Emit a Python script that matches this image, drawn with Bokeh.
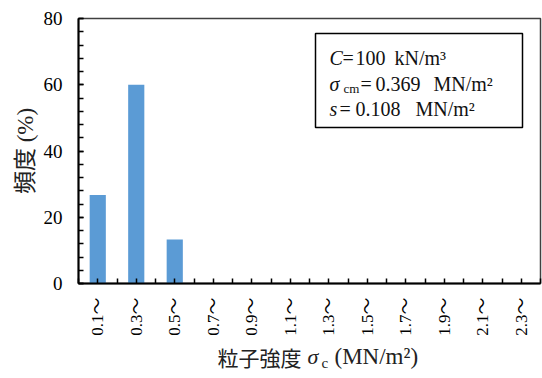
from bokeh.plotting import figure
from bokeh.models import Range1d, FixedTicker, BoxAnnotation, Label
from bokeh.layouts import column
from bokeh.core.properties import value
from bokeh.embed import file_html
from bokeh.resources import INLINE

# ---- data ----
categories = ["0.1～", "0.3～", "0.5～", "0.7～", "0.9～", "1.1～",
              "1.3～", "1.5～", "1.7～", "1.9～", "2.1～", "2.3～"]
frequency = [26.7, 60.0, 13.3, 0, 0, 0, 0, 0, 0, 0, 0, 0]
y_ticks = [0, 20, 40, 60, 80]

SERIF = "Liberation Serif, 'Noto Sans CJK JP'"
CJK = "'Noto Sans CJK JP'"

n = len(categories)
W = 542
H1, H2 = 342, 36
L, R, T, B = 78, 2, 18, 59
frame_w = W - L - R
frame_h = H1 - T - B
YMAX = 80

def px2x(px):
    return (px - L) / frame_w * n

def px2y(py):
    return (T + frame_h - py) / frame_h * YMAX

p = figure(width=W, height=H1, output_backend="svg", toolbar_location=None,
           x_range=Range1d(0, n), y_range=Range1d(0, YMAX),
           min_border_left=L, min_border_right=R, min_border_top=T, min_border_bottom=B)
p.title.visible = False

xs = [i + 0.5 for i in range(n)]
p.vbar(x=xs, top=frequency, width=0.42, fill_color="#5B9BD5", line_color=None)

p.grid.visible = False
p.outline_line_color = "#404040"
p.outline_line_width = 1.5
p.background_fill_color = "white"
p.border_fill_color = "white"

# x axis
xa = p.xaxis[0]
xa.ticker = FixedTicker(ticks=xs, minor_ticks=list(range(n + 1)))
xa.major_label_overrides = {x: c for x, c in zip(xs, categories)}
xa.major_label_orientation = 3.14159265 / 2
xa.major_label_text_font = SERIF
xa.major_label_text_font_size = "17px"
xa.major_label_text_color = "black"
xa.major_label_standoff = 14
xa.axis_line_width = 2
xa.axis_line_color = "black"
xa.major_tick_in = 5
xa.major_tick_out = 0
xa.minor_tick_in = 5
xa.minor_tick_out = 0
xa.major_tick_line_width = 1.5
xa.minor_tick_line_width = 1.5
xa.major_tick_line_color = "black"
xa.minor_tick_line_color = "black"

# y axis
ya = p.yaxis[0]
ya.ticker = FixedTicker(ticks=y_ticks, minor_ticks=list(range(0, YMAX + 1, 4)))
ya.major_label_text_font = SERIF
ya.major_label_text_font_size = "19px"
ya.major_label_text_color = "black"
ya.major_label_standoff = 16
ya.axis_line_width = 2
ya.axis_line_color = "black"
ya.major_tick_in = 5
ya.major_tick_out = 0
ya.minor_tick_in = 5
ya.minor_tick_out = 0
ya.major_tick_line_width = 1.5
ya.minor_tick_line_width = 1.5
ya.major_tick_line_color = "black"
ya.minor_tick_line_color = "black"
ya.axis_label = "頻度 (%)"
ya.axis_label_text_font = SERIF
ya.axis_label_text_font_style = "normal"
ya.axis_label_text_font_size = "23px"
ya.axis_label_text_color = "#222222"
ya.axis_label_standoff = 3

# info box
p.add_layout(BoxAnnotation(left=px2x(315), right=px2x(522), top=px2y(33), bottom=px2y(127),
                           fill_color="white", fill_alpha=1,
                           line_color="black", line_alpha=1, line_width=1.5))

def lab(text, px, py, size, style="normal", font=SERIF, color="#111111"):
    p.add_layout(Label(x=px2x(px), y=px2y(py), text=text, text_font=font,
                       text_font_size=size, text_font_style=style,
                       text_align="left", text_baseline="middle", text_color=color))

# line 1
lab("C", 329, 57, "20px", "italic")
lab("=", 342, 57, "20px")
lab("100", 355, 57, "20px")
lab("kN/m³", 394, 57, "20px")
# line 2
lab("σ", 329, 83, "20px", "italic")
lab("cm", 343, 88, "13px")
lab("=", 360, 83, "20px")
lab("0.369", 375, 83, "20px")
lab("MN/m²", 433, 83, "20px")
# line 3
lab("s", 329, 108, "20px", "italic")
lab("=", 339, 108, "20px")
lab("0.108", 355, 108, "20px")
lab("MN/m²", 415, 108, "20px")

# x axis title strip (separate small figure so the subscript can be drawn)
p2 = figure(width=W, height=H2, output_backend="svg", toolbar_location=None,
            x_range=Range1d(L, W - R), y_range=Range1d(0, H2),
            min_border_left=L, min_border_right=R, min_border_top=0, min_border_bottom=0,
            x_axis_location=None, y_axis_location=None)
p2.title.visible = False
p2.grid.visible = False
p2.outline_line_color = None
p2.background_fill_color = "white"
p2.border_fill_color = "white"

def t2(text, px, mid_from_bottom, size, style="normal", font=SERIF):
    p2.text(x=[px], y=[mid_from_bottom], text=[text], text_font=value(font),
            text_font_size=value(size), text_font_style=style,
            text_align="left", text_baseline="middle", text_color="#222222")

t2("粒子強度", 217, 22, "21px", font=CJK)
t2("σ", 307, 22, "22px", "italic")
t2("c", 321, 16, "15px")
t2("(MN/m²)", 334, 22, "23px")

layout = column(p, p2, spacing=0)
open("out.html", "w").write(file_html(layout, INLINE))
